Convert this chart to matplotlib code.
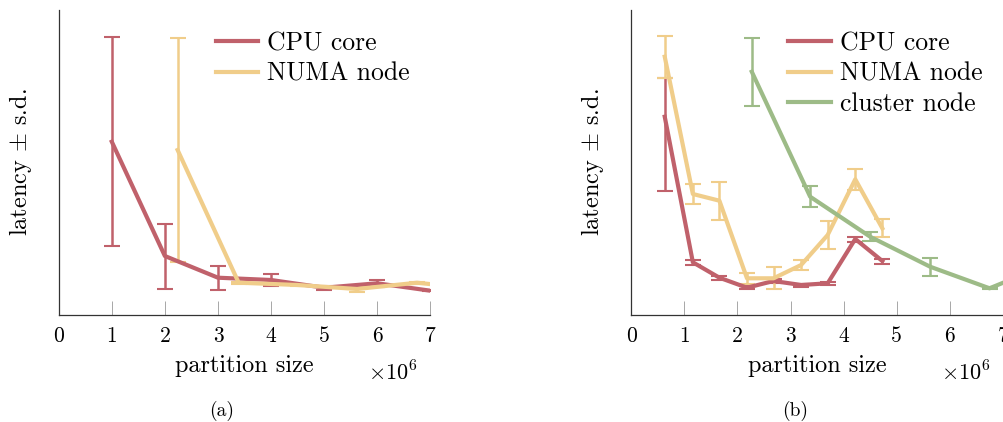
import matplotlib
matplotlib.use("Agg")
import matplotlib.pyplot as plt
from matplotlib.lines import Line2D

plt.rcParams["font.family"] = "serif"
plt.rcParams["font.serif"] = ["cmr10"]
plt.rcParams["mathtext.fontset"] = "cm"
plt.rcParams["axes.formatter.use_mathtext"] = True

RED = "#c0616b"
YELLOW = "#f0cd8a"
GREEN = "#9dbb87"

# ---- panel (a) ----
a_cpu_x = [1, 2, 3, 4, 5, 6, 7]
a_cpu_y = [173.3, 59.0, 37.3, 35.0, 27.3, 31.7, 24.3]
a_cpu_sd = [104.7, 32.5, 12.0, 5.8, 2.0, 3.3, 0.5]

a_numa_x = [2.24, 3.39, 4.5, 5.62, 6.75, 7.87]
a_numa_y = [165.0, 32.3, 30.0, 26.0, 32.3, 26.0]
a_numa_sd = [111.6, 1.0, 1.0, 3.0, 1.0, 1.0]

# ---- panel (b) ----
b_cpu_x = [0.63, 1.16, 1.66, 2.18, 2.68, 3.2, 3.7, 4.22, 4.73]
b_cpu_y = [198.3, 52.7, 37.3, 27.3, 34.0, 30.0, 31.7, 76.0, 54.0]
b_cpu_err = [[74.0, 2.5, 2.0, 1.5, 2.0, 1.5, 1.5, 2.5, 2.5],
             [38.4, 2.5, 2.0, 1.5, 2.0, 1.5, 1.5, 2.5, 2.5]]

b_numa_x = [0.63, 1.16, 1.66, 2.18, 2.68, 3.2, 3.7, 4.22, 4.73]
b_numa_y = [258.3, 121.0, 114.3, 36.7, 36.7, 50.0, 80.0, 135.7, 86.7]
b_numa_sd = [20.8, 10.0, 18.8, 5.8, 11.0, 4.7, 14.2, 10.8, 9.0]

b_cluster_x = [2.27, 3.37, 4.5, 5.63, 6.75, 7.87]
b_cluster_y = [243.3, 118.3, 78.3, 48.3, 26.7, 51.0]
b_cluster_sd = [34.2, 10.5, 4.7, 9.2, 1.0, 1.0]

x_ticks = [0, 1, 2, 3, 4, 5, 6, 7]

W, H = 1004, 422
fig = plt.figure(figsize=(W / 100, H / 100), dpi=100)

def make_axes(left_px, right_px):
    ax = fig.add_axes([left_px / W, (H - 315) / H, (right_px - left_px) / W, 305 / H])
    ax.set_xlim(0, 7)
    ax.set_ylim(0, 305)
    ax.spines["top"].set_visible(False)
    ax.spines["right"].set_visible(False)
    for s in ("left", "bottom"):
        ax.spines[s].set_linewidth(0.9)
        ax.spines[s].set_color("#333333")
    ax.set_yticks([])
    ax.set_xticks(x_ticks)
    ax.set_xticklabels([str(t) for t in x_ticks])
    ax.tick_params(axis="x", direction="in", length=10, width=0.6, color="#999999",
                   labelsize=15.5, pad=8)
    ax.set_xlabel("partition size", fontsize=17.5, labelpad=7)
    ax.set_ylabel(r"latency $\pm$ s.d.", fontsize=17.5, labelpad=18)
    ax.text(0.9, -0.19, r"$\times 10^{6}$", transform=ax.transAxes, fontsize=16,
            ha="center", va="center")
    return ax

def series(ax, x, y, err, color):
    ax.errorbar(x, y, yerr=err, color=color, lw=3.0, elinewidth=1.8, capsize=5.5,
                capthick=1.5, ecolor=color, clip_on=True)

def add_legend(ax, colors, labels):
    handles = [Line2D([], [], color=c, lw=3.0) for c in colors]
    ax.legend(handles, labels, loc="upper left", bbox_to_anchor=(0.423, 0.93),
              frameon=False, fontsize=18.5, handlelength=1.65, handletextpad=0.35,
              labelspacing=0.27, borderaxespad=0.0, borderpad=0.0)

ax1 = make_axes(58.7, 430.3)
series(ax1, a_cpu_x, a_cpu_y, a_cpu_sd, RED)
series(ax1, a_numa_x, a_numa_y, a_numa_sd, YELLOW)
add_legend(ax1, [RED, YELLOW], ["CPU core", "NUMA node"])

ax2 = make_axes(631.3, 1002.8)
series(ax2, b_cpu_x, b_cpu_y, b_cpu_err, RED)
series(ax2, b_numa_x, b_numa_y, b_numa_sd, YELLOW)
series(ax2, b_cluster_x, b_cluster_y, b_cluster_sd, GREEN)
add_legend(ax2, [RED, YELLOW, GREEN], ["CPU core", "NUMA node", "cluster node"])

fig.text(222 / W, 1 - 411 / H, "(a)", ha="center", va="center", fontsize=14)
fig.text(795 / W, 1 - 411 / H, "(b)", ha="center", va="center", fontsize=14)

fig.savefig("out.png", dpi=100)
